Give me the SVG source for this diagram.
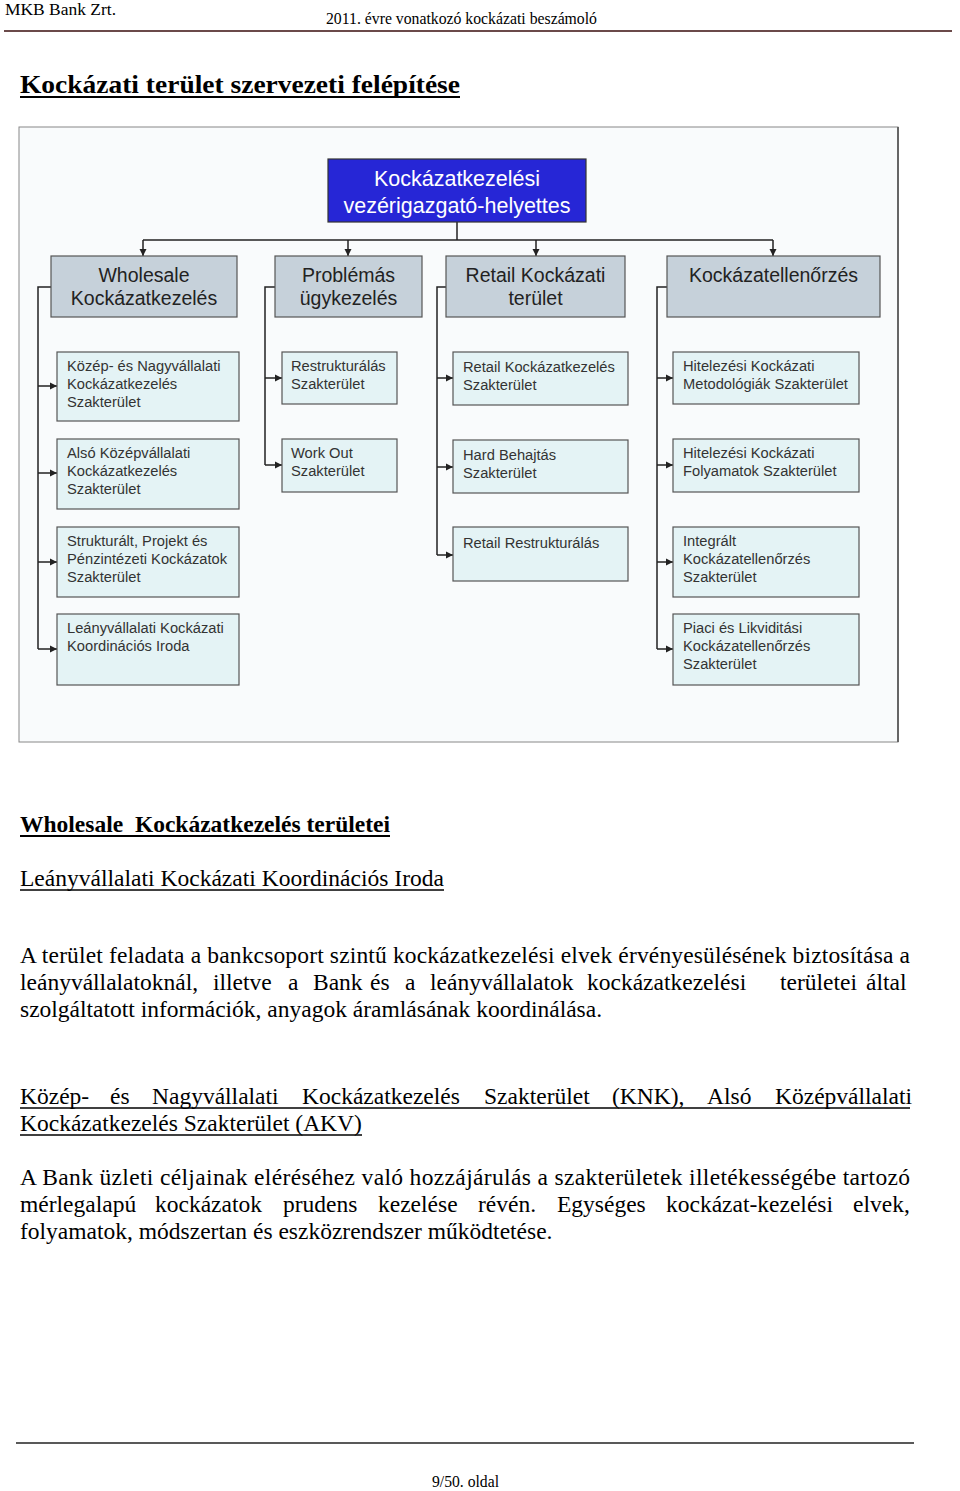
<svg xmlns="http://www.w3.org/2000/svg" width="960" height="1491" viewBox="0 0 960 1491">
<defs>
<marker id="arr" markerWidth="8" markerHeight="8" refX="7" refY="4" orient="auto" markerUnits="userSpaceOnUse">
<path d="M0,0.5 L7,4 L0,7.5 Z" fill="#222"/>
</marker>
<style>
.serif{font-family:"Liberation Serif","Times New Roman",serif;fill:#000}
.sans{font-family:"Liberation Sans",Arial,sans-serif}
.l2{fill:#c6d1da;stroke:#555;stroke-width:1.2}
.l3{fill:#e4f3f5;stroke:#555;stroke-width:1.2}
.t2{font-family:"Liberation Sans",Arial,sans-serif;font-size:19.5px;fill:#222;text-anchor:middle}
.t3{font-family:"Liberation Sans",Arial,sans-serif;font-size:14.7px;fill:#333}
.con{fill:none;stroke:#222;stroke-width:1.5}
.body{font-family:"Liberation Serif","Times New Roman",serif;font-size:23.5px;fill:#000}
.ul{stroke:#000;stroke-width:1.3}
</style>
</defs>
<rect width="960" height="1491" fill="#fff"/>

<!-- header -->
<g id="header">
<text class="serif" x="5" y="15" font-size="17" textLength="111" lengthAdjust="spacingAndGlyphs">MKB Bank Zrt.</text>
<text class="serif" x="326" y="24" font-size="17" textLength="271" lengthAdjust="spacingAndGlyphs">2011. évre vonatkozó kockázati beszámoló</text>
<line x1="4" y1="31" x2="952" y2="31" stroke="#6b4a4a" stroke-width="2"/>
</g>

<g id="title">
<text class="serif" x="20" y="93" font-size="25" font-weight="bold" textLength="440" lengthAdjust="spacingAndGlyphs">Kockázati terület szervezeti felépítése</text>
<line x1="20" y1="97" x2="460" y2="97" stroke="#000" stroke-width="2"/>
</g>

<!-- frame -->
<rect x="19" y="127" width="879" height="615" fill="#f9fbfc" stroke="#888" stroke-width="1"/>
<line x1="898" y1="127" x2="898" y2="742" stroke="#666" stroke-width="2"/>

<!-- connectors -->
<g id="connectors">
<polyline class="con" points="457,222 457,240"/>
<line class="con" x1="143" y1="240" x2="773" y2="240"/>
<line class="con" x1="143" y1="240" x2="143" y2="256" marker-end="url(#arr)"/>
<line class="con" x1="348" y1="240" x2="348" y2="256" marker-end="url(#arr)"/>
<line class="con" x1="536" y1="240" x2="536" y2="256" marker-end="url(#arr)"/>
<line class="con" x1="773" y1="240" x2="773" y2="256" marker-end="url(#arr)"/>

<polyline class="con" points="51,287 38,287 38,649"/>
<line class="con" x1="38" y1="386" x2="57" y2="386" marker-end="url(#arr)"/>
<line class="con" x1="38" y1="473" x2="57" y2="473" marker-end="url(#arr)"/>
<line class="con" x1="38" y1="562" x2="57" y2="562" marker-end="url(#arr)"/>
<line class="con" x1="38" y1="649" x2="57" y2="649" marker-end="url(#arr)"/>

<polyline class="con" points="275,287 265,287 265,465"/>
<line class="con" x1="265" y1="378" x2="282" y2="378" marker-end="url(#arr)"/>
<line class="con" x1="265" y1="465" x2="282" y2="465" marker-end="url(#arr)"/>

<polyline class="con" points="446,287 437,287 437,555"/>
<line class="con" x1="437" y1="378" x2="453" y2="378" marker-end="url(#arr)"/>
<line class="con" x1="437" y1="467" x2="453" y2="467" marker-end="url(#arr)"/>
<line class="con" x1="437" y1="555" x2="453" y2="555" marker-end="url(#arr)"/>

<polyline class="con" points="667,287 657,287 657,649"/>
<line class="con" x1="657" y1="378" x2="673" y2="378" marker-end="url(#arr)"/>
<line class="con" x1="657" y1="465" x2="673" y2="465" marker-end="url(#arr)"/>
<line class="con" x1="657" y1="562" x2="673" y2="562" marker-end="url(#arr)"/>
<line class="con" x1="657" y1="649" x2="673" y2="649" marker-end="url(#arr)"/>
</g>

<!-- top node -->
<g id="n-top">
<rect x="328" y="159" width="258" height="63" fill="#2626d6" stroke="#333" stroke-width="1.2"/>
<text class="sans" x="457" y="186" font-size="21.5" fill="#fff" text-anchor="middle">Kockázatkezelési</text>
<text class="sans" x="457" y="213" font-size="21.5" fill="#fff" text-anchor="middle">vezérigazgató-helyettes</text>
</g>

<!-- level 2 -->
<g id="n-wholesale">
<rect class="l2" x="51" y="256" width="186" height="61"/>
<text class="t2" x="144" y="282">Wholesale</text>
<text class="t2" x="144" y="305">Kockázatkezelés</text>
</g>
<g id="n-problemas">
<rect class="l2" x="275" y="256" width="147" height="61"/>
<text class="t2" x="348.5" y="282">Problémás</text>
<text class="t2" x="348.5" y="305">ügykezelés</text>
</g>
<g id="n-retail">
<rect class="l2" x="446" y="256" width="179" height="61"/>
<text class="t2" x="535.5" y="282">Retail Kockázati</text>
<text class="t2" x="535.5" y="305">terület</text>
</g>
<g id="n-kockell">
<rect class="l2" x="667" y="256" width="213" height="61"/>
<text class="t2" x="773.5" y="282">Kockázatellenőrzés</text>
</g>

<!-- level 3: wholesale -->
<g id="n-knk">
<rect class="l3" x="57" y="352" width="182" height="69"/>
<text class="t3" x="67" y="371">Közép- és Nagyvállalati</text>
<text class="t3" x="67" y="389">Kockázatkezelés</text>
<text class="t3" x="67" y="407">Szakterület</text>
</g>
<g id="n-akv">
<rect class="l3" x="57" y="439" width="182" height="70"/>
<text class="t3" x="67" y="458">Alsó Középvállalati</text>
<text class="t3" x="67" y="476">Kockázatkezelés</text>
<text class="t3" x="67" y="494">Szakterület</text>
</g>
<g id="n-strukt">
<rect class="l3" x="57" y="527" width="182" height="70"/>
<text class="t3" x="67" y="546">Strukturált, Projekt és</text>
<text class="t3" x="67" y="564">Pénzintézeti Kockázatok</text>
<text class="t3" x="67" y="582">Szakterület</text>
</g>
<g id="n-leany">
<rect class="l3" x="57" y="614" width="182" height="71"/>
<text class="t3" x="67" y="633">Leányvállalati Kockázati</text>
<text class="t3" x="67" y="651">Koordinációs Iroda</text>
</g>

<!-- level 3: problémás -->
<g id="n-restr">
<rect class="l3" x="282" y="352" width="115" height="52"/>
<text class="t3" x="291" y="371">Restrukturálás</text>
<text class="t3" x="291" y="389">Szakterület</text>
</g>
<g id="n-workout">
<rect class="l3" x="282" y="439" width="115" height="53"/>
<text class="t3" x="291" y="458">Work Out</text>
<text class="t3" x="291" y="476">Szakterület</text>
</g>

<!-- level 3: retail -->
<g id="n-retailkk">
<rect class="l3" x="453" y="352" width="175" height="53"/>
<text class="t3" x="463" y="372">Retail Kockázatkezelés</text>
<text class="t3" x="463" y="390">Szakterület</text>
</g>
<g id="n-hard">
<rect class="l3" x="453" y="440" width="175" height="53"/>
<text class="t3" x="463" y="460">Hard Behajtás</text>
<text class="t3" x="463" y="478">Szakterület</text>
</g>
<g id="n-retailrestr">
<rect class="l3" x="453" y="527" width="175" height="54"/>
<text class="t3" x="463" y="548">Retail Restrukturálás</text>
</g>

<!-- level 3: kockázatellenőrzés -->
<g id="n-metod">
<rect class="l3" x="673" y="352" width="186" height="52"/>
<text class="t3" x="683" y="371">Hitelezési Kockázati</text>
<text class="t3" x="683" y="389">Metodológiák Szakterület</text>
</g>
<g id="n-folyam">
<rect class="l3" x="673" y="439" width="186" height="53"/>
<text class="t3" x="683" y="458">Hitelezési Kockázati</text>
<text class="t3" x="683" y="476">Folyamatok Szakterület</text>
</g>
<g id="n-integr">
<rect class="l3" x="673" y="527" width="186" height="70"/>
<text class="t3" x="683" y="546">Integrált</text>
<text class="t3" x="683" y="564">Kockázatellenőrzés</text>
<text class="t3" x="683" y="582">Szakterület</text>
</g>
<g id="n-piaci">
<rect class="l3" x="673" y="614" width="186" height="71"/>
<text class="t3" x="683" y="633">Piaci és Likviditási</text>
<text class="t3" x="683" y="651">Kockázatellenőrzés</text>
<text class="t3" x="683" y="669">Szakterület</text>
</g>

<!-- body text -->
<g id="body">
<text class="body" x="20" y="832" font-weight="bold" xml:space="preserve" textLength="370" lengthAdjust="spacingAndGlyphs">Wholesale  Kockázatkezelés területei</text>
<line x1="20" y1="836" x2="390" y2="836" stroke="#000" stroke-width="2"/>

<text class="body" x="20" y="886" textLength="424" lengthAdjust="spacingAndGlyphs">Leányvállalati Kockázati Koordinációs Iroda</text>
<line class="ul" x1="20" y1="890" x2="444" y2="890"/>

<text class="body" x="20" y="963" textLength="890" lengthAdjust="spacing">A terület feladata a bankcsoport szintű kockázatkezelési elvek érvényesülésének biztosítása a</text>
<text class="body" y="990"><tspan x="20">leányvállalatoknál,</tspan><tspan x="213">illetve</tspan><tspan x="288">a</tspan><tspan x="313">Bank</tspan><tspan x="370">és</tspan><tspan x="405">a</tspan><tspan x="430">leányvállalatok</tspan><tspan x="587">kockázatkezelési</tspan><tspan x="780">területei</tspan><tspan x="866">által</tspan></text>
<text class="body" x="20" y="1017">szolgáltatott információk, anyagok áramlásának koordinálása.</text>

<text class="body" y="1104"><tspan x="20">Közép-</tspan><tspan x="110">és</tspan><tspan x="152">Nagyvállalati</tspan><tspan x="302">Kockázatkezelés</tspan><tspan x="484">Szakterület</tspan><tspan x="612">(KNK),</tspan><tspan x="707">Alsó</tspan><tspan x="775">Középvállalati</tspan></text>
<line class="ul" x1="20" y1="1108" x2="910" y2="1108"/>
<text class="body" x="20" y="1131">Kockázatkezelés Szakterület (AKV)</text>
<line class="ul" x1="20" y1="1135" x2="362" y2="1135"/>

<text class="body" x="20" y="1185" textLength="890" lengthAdjust="spacing">A Bank üzleti céljainak eléréséhez való hozzájárulás a szakterületek illetékességébe tartozó</text>
<text class="body" y="1212"><tspan x="20">mérlegalapú</tspan><tspan x="155">kockázatok</tspan><tspan x="283">prudens</tspan><tspan x="378">kezelése</tspan><tspan x="478">révén.</tspan><tspan x="557">Egységes</tspan><tspan x="666">kockázat-kezelési</tspan><tspan x="853">elvek,</tspan></text>
<text class="body" x="20" y="1239">folyamatok, módszertan és eszközrendszer működtetése.</text>
</g>

<g id="footer">
<line x1="16" y1="1443" x2="914" y2="1443" stroke="#222" stroke-width="1.5"/>
<text class="serif" x="432" y="1487" font-size="16" textLength="67" lengthAdjust="spacingAndGlyphs">9/50. oldal</text>
</g>
</svg>
